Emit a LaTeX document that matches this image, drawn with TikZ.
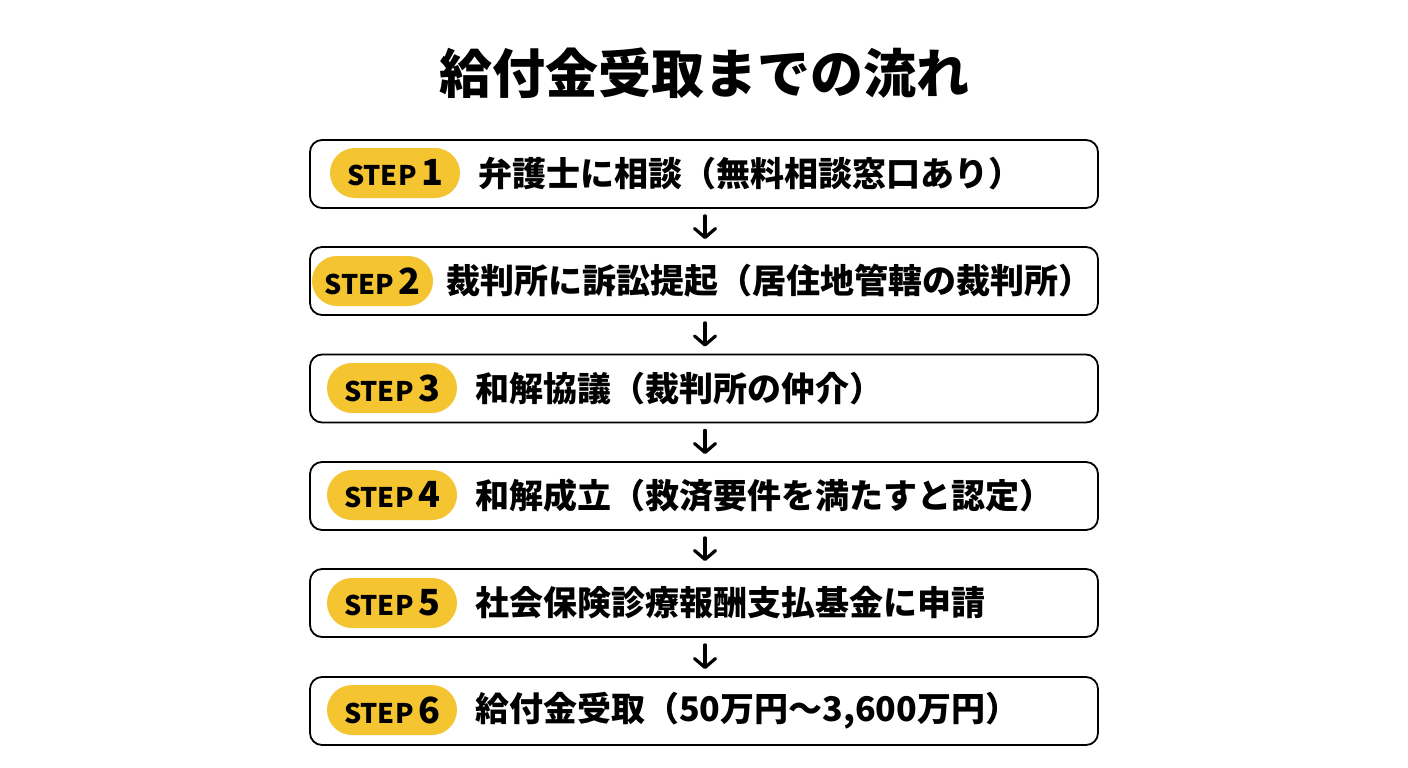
\documentclass[tikz,border=0pt]{standalone}
\usepackage{fontspec}
\setmainfont{Noto Sans CJK JP}
\usetikzlibrary{arrows.meta}
\definecolor{pillyellow}{HTML}{F5C431}
\begin{document}
\begin{tikzpicture}[x=1pt,y=-1pt,
  stepbox/.style={draw=black,line width=1.8pt,rounded corners=12pt,minimum width=788pt,minimum height=68pt,inner sep=0pt},
  pill/.style={fill=pillyellow,rounded corners=25pt,minimum width=130pt,minimum height=50pt,inner sep=0pt,font=\bfseries},
  steptext/.style={anchor=west,inner sep=0pt,font=\bfseries\fontsize{34}{36}\selectfont},
  flow/.style={line width=3.2pt,line cap=round,-{Straight Barb[length=9pt,width=21pt,line width=3.2pt,round]},shorten <=7pt,shorten >=7pt}
]
\useasboundingbox (0,0) rectangle (1408,768);
\fill[white] (0,0) rectangle (1408,768);
\node[font=\bfseries\fontsize{53}{56}\selectfont,inner sep=0pt] (title) at (704,73) {給付金受取までの流れ};

\node[stepbox] (b1) at (704,174) {};
\node[stepbox] (b2) at (704,281) {};
\node[stepbox] (b3) at (704,388.5) {};
\node[stepbox] (b4) at (704,496) {};
\node[stepbox] (b5) at (704,603) {};
\node[stepbox] (b6) at (704,711) {};

\node[pill] (p1) at (395,173) {\fontsize{27}{28}\selectfont STEP\,\fontsize{36}{36}\selectfont 1};
\node[pill,minimum width=121pt] (p2) at (372.5,281) {\fontsize{27}{28}\selectfont STEP\,\fontsize{36}{36}\selectfont 2};
\node[pill] (p3) at (392,388) {\fontsize{27}{28}\selectfont STEP\,\fontsize{36}{36}\selectfont 3};
\node[pill] (p4) at (392,495) {\fontsize{27}{28}\selectfont STEP\,\fontsize{36}{36}\selectfont 4};
\node[pill] (p5) at (392,603) {\fontsize{27}{28}\selectfont STEP\,\fontsize{36}{36}\selectfont 5};
\node[pill] (p6) at (392,710) {\fontsize{27}{28}\selectfont STEP\,\fontsize{36}{36}\selectfont 6};

\node[steptext] (t1) at (478,174) {弁護士に相談（無料相談窓口あり）};
\node[steptext] (t2) at (446,281) {裁判所に訴訟提起（居住地管轄の裁判所）};
\node[steptext] (t3) at (475,388.5) {和解協議（裁判所の仲介）};
\node[steptext] (t4) at (475,496) {和解成立（救済要件を満たすと認定）};
\node[steptext] (t5) at (475,603) {社会保険診療報酬支払基金に申請};
\node[steptext] (t6) at (475,711) {給付金受取（50万円〜3,600万円）};

\draw[flow] (b1.south -| 705,0) -- (b2.north -| 705,0);
\draw[flow] (b2.south -| 705,0) -- (b3.north -| 705,0);
\draw[flow] (b3.south -| 705,0) -- (b4.north -| 705,0);
\draw[flow] (b4.south -| 705,0) -- (b5.north -| 705,0);
\draw[flow] (b5.south -| 705,0) -- (b6.north -| 705,0);
\end{tikzpicture}
\end{document}
